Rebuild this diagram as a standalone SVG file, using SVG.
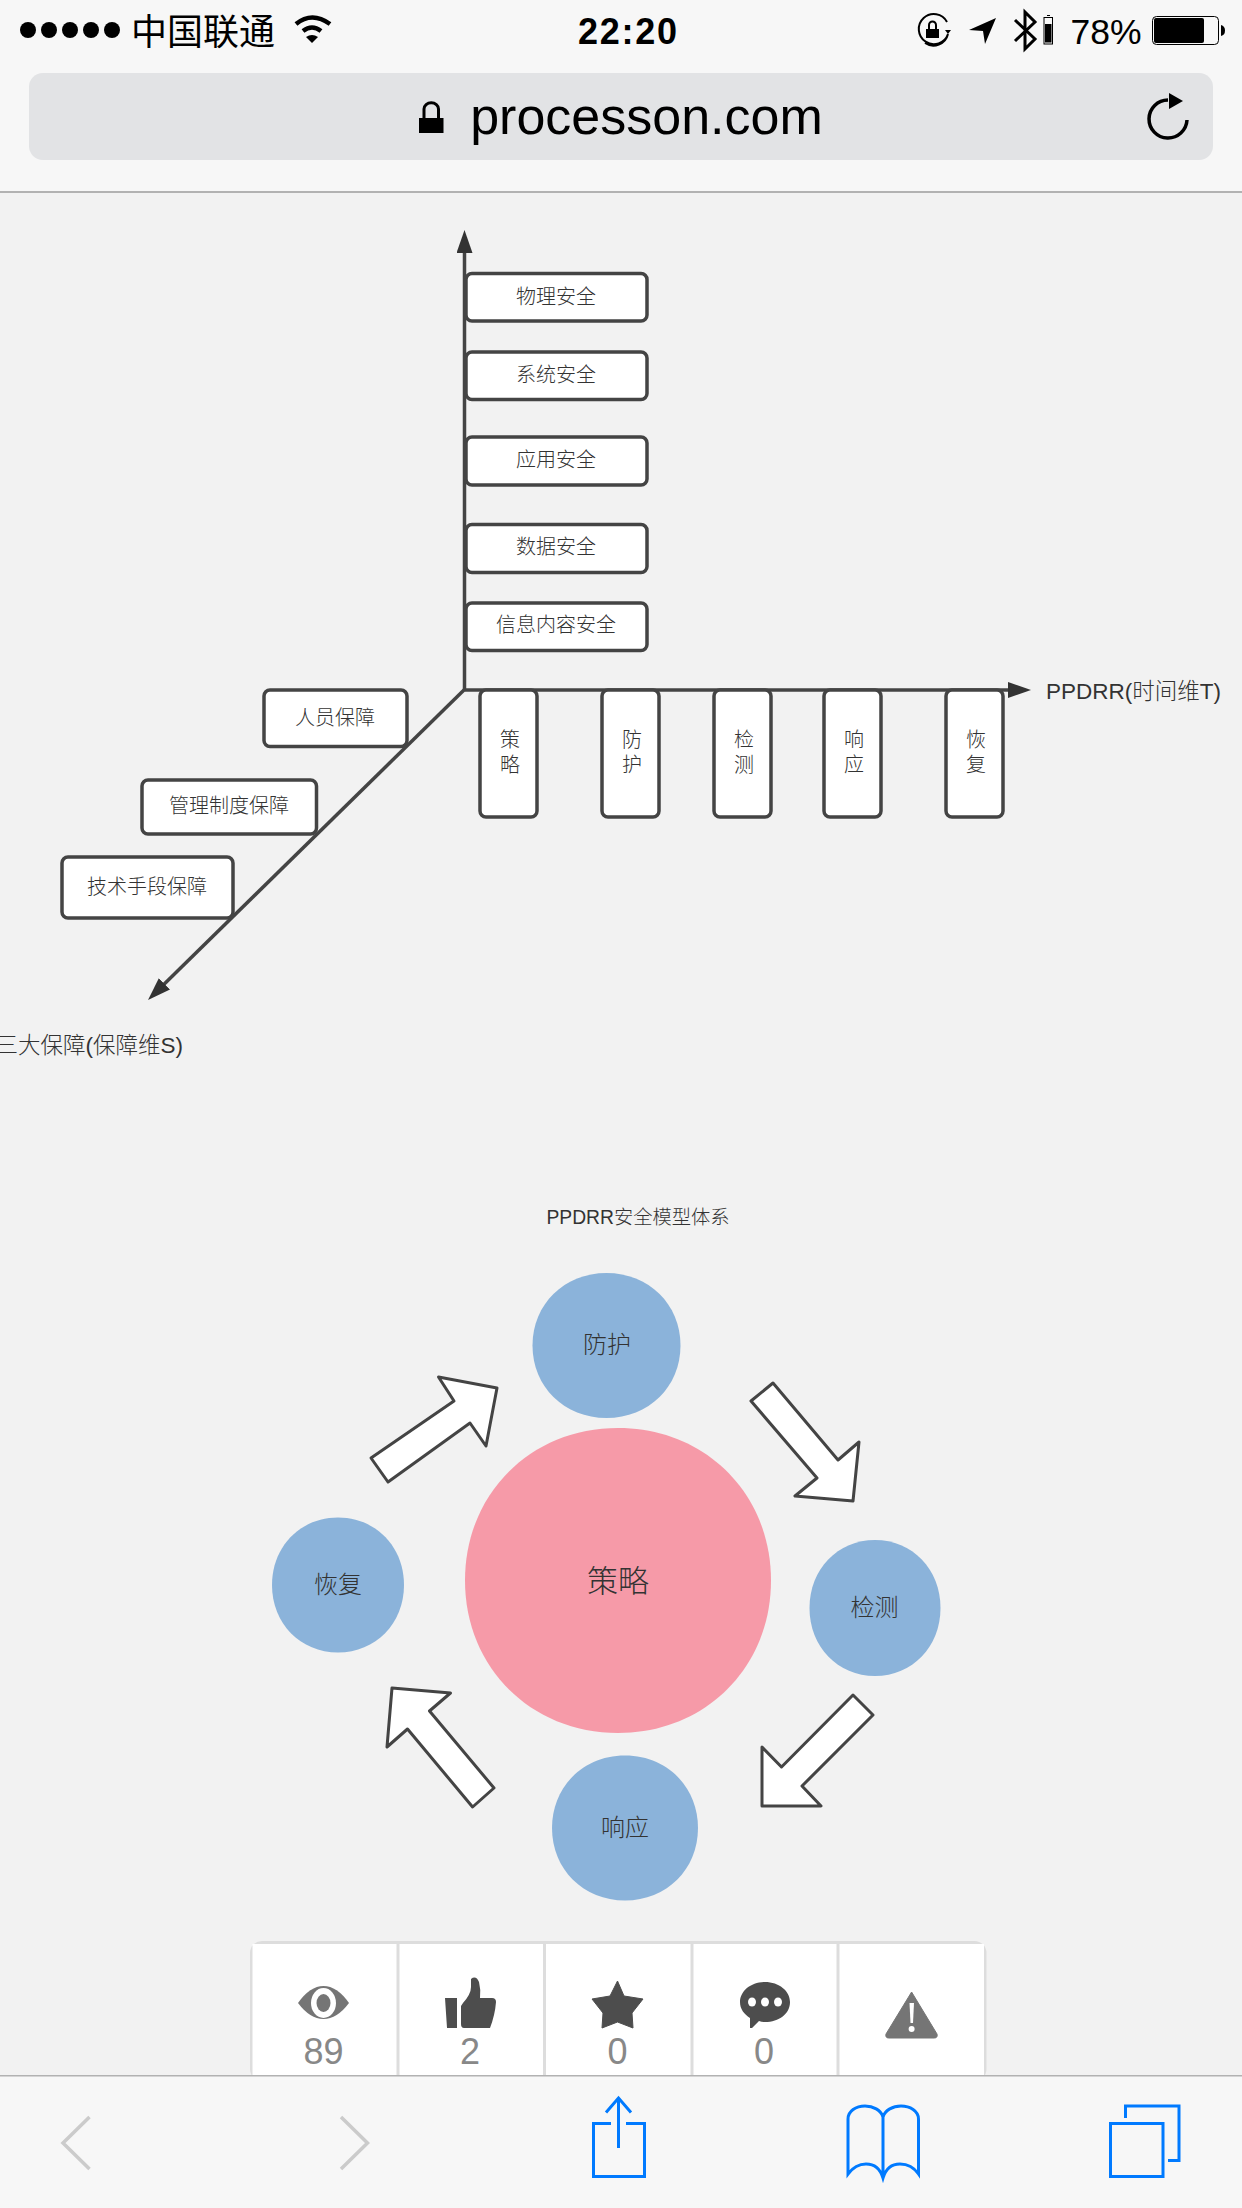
<svg xmlns="http://www.w3.org/2000/svg" xmlns:xlink="http://www.w3.org/1999/xlink" width="1242" height="2208" viewBox="0 0 1242 2208">
<style>
text{font-family:"Liberation Sans","Noto Sans CJK SC",sans-serif;fill:#333;text-anchor:middle;dominant-baseline:central}
.box{fill:#fff;stroke:#444;stroke-width:3.5}
.axis{fill:none;stroke:#444;stroke-width:3.5;marker-end:url(#head)}
.block{fill:#fff;stroke:#444;stroke-width:3;stroke-linejoin:round}
.l{font-size:20px;font-weight:300}
.a{font-size:22.500px;font-weight:300}
.c{font-size:24px;font-weight:300}
.blue{fill:#8bb3da}
.pink{fill:#f69aa8}
.k{fill:#000;dominant-baseline:auto}
.num{font-size:36px;fill:#888;dominant-baseline:auto}
.div{stroke:#ddd;stroke-width:3;fill:none}
.chev{fill:none;stroke:#cbcbcb;stroke-width:3.5}
.ios{fill:none;stroke:#007aff;stroke-width:3}
</style>
<defs>
<marker id="head" markerUnits="userSpaceOnUse" markerWidth="23" markerHeight="16" viewBox="0 0 23 16" refX="2" refY="8" orient="auto"><path d="M0,0L23,8L0,16Z" fill="#333"/></marker>
<path id="blob" d="M-1,0C-1,-.57 -.57,-1 0,-1C.57,-1 1,-.57 1,0C1,.57 .57,1 0,1C-.57,1 -1,.57 -1,0Z"/>
</defs>
<rect width="1242" height="2208" fill="#f2f2f2"/>

<g id="status-bar">
<rect width="1242" height="192" fill="#f7f7f7"/>
<rect y="191" width="1242" height="2" fill="#b2b2b2"/>
<g fill="#000"><circle cx="28" cy="30" r="8"/><circle cx="49" cy="30" r="8"/><circle cx="70" cy="30" r="8"/><circle cx="91" cy="30" r="8"/><circle cx="112" cy="30" r="8"/></g>
<text class="k" x="203" y="44.500" font-size="36">中国联通</text>
<path d="M296,24Q312,11 330,24M303,31Q312,24 321,31" fill="none" stroke="#000" stroke-width="4.500"/>
<path d="M306,37Q312,33 318,37L312,43Z" fill="#000"/>
<text class="k" x="627.500" y="44" font-size="36" font-weight="700" textLength="99">22:20</text>
<path d="M948,34A15,15 0 1 1 947,22M948,34A15,15 0 0 1 925,43" fill="none" stroke="#000" stroke-width="2"/>
<path d="M945,30H951L948,34Z" fill="#000"/>
<rect x="926" y="29" width="13" height="9" fill="#000"/>
<path d="M929,29V25A3.500,3.500 0 0 1 936,25V29" fill="none" stroke="#000" stroke-width="2"/>
<path d="M969,30L996,18L985,44L983,31Z" fill="#000"/>
<path d="M1015,20L1035,39L1025,49V12L1035,22L1015,41" fill="none" stroke="#000" stroke-width="3"/>
<rect x="1044" y="17.500" width="8.500" height="26.500" fill="none" stroke="#000" stroke-width="1"/>
<rect x="1047" y="15" width="3" height="1" fill="#000"/>
<rect x="1045" y="24" width="6.500" height="18.500" fill="#000"/>
<text class="k" x="1106" y="44" font-size="35.500">78%</text>
<rect x="1152.500" y="16.500" width="66" height="28" rx="4" fill="none" stroke="#000" stroke-width="1"/>
<rect x="1154" y="18" width="50" height="25" rx="2" fill="#000"/>
<path d="M1221,25Q1225,26 1225,30.500Q1225,35 1221,36Z" fill="#000"/>
</g>

<g id="address-bar">
<rect x="29" y="73" width="1184" height="87" rx="14" fill="#e2e3e5"/>
<rect x="419" y="118" width="24.500" height="15" fill="#000"/>
<path d="M424,118V109A7,6 0 0 1 438.500,109V118" fill="none" stroke="#000" stroke-width="3"/>
<text class="k" x="646.500" y="134" font-size="52">processon.com</text>
<path d="M1168,100A19,19 0 1 0 1187,120" fill="none" stroke="#000" stroke-width="3.500"/>
<path d="M1169,93L1183,101L1169,109Z" fill="#000"/>
</g>

<g id="connectors">
<path class="axis" d="M464.500,690V251"/>
<path class="axis" d="M464.500,690H1010"/>
<path class="axis" d="M465,689L163,985.300"/>
<polygon class="block" points="371,1458 454,1401 438.500,1377 497,1388 486,1446 470,1423 388,1482"/>
<polygon class="block" points="773,1383 751,1401 817,1478 795,1496 853,1501 859,1442 838,1460"/>
<polygon class="block" points="853,1695 873,1715 802,1786 821,1806 762,1806 762,1747 781.500,1767"/>
<polygon class="block" points="392,1688 450.500,1693 429.500,1711 494,1788 472.600,1807 407.500,1729 387,1747"/>
</g>

<g id="n-physical"><rect class="box" x="466" y="273.500" width="181" height="47.500" rx="6"/><text class="l" x="556" y="297">物理安全</text></g>
<g id="n-system"><rect class="box" x="466" y="352" width="181" height="47.500" rx="6"/><text class="l" x="556" y="375">系统安全</text></g>
<g id="n-application"><rect class="box" x="466" y="437" width="181" height="48" rx="6"/><text class="l" x="556" y="460">应用安全</text></g>
<g id="n-data"><rect class="box" x="466" y="524.500" width="181" height="48" rx="6"/><text class="l" x="556" y="547">数据安全</text></g>
<g id="n-content"><rect class="box" x="466" y="603" width="181" height="47.500" rx="6"/><text class="l" x="556" y="625">信息内容安全</text></g>

<g id="n-people"><rect class="box" x="264" y="690" width="143" height="56.500" rx="6"/><text class="l" x="335" y="718">人员保障</text></g>
<g id="n-policy"><rect class="box" x="142" y="780" width="174.500" height="54" rx="6"/><text class="l" x="229" y="806">管理制度保障</text></g>
<g id="n-tech"><rect class="box" x="62" y="857" width="171" height="61" rx="6"/><text class="l" x="147" y="887">技术手段保障</text></g>

<g id="t-strategy"><rect class="box" x="480" y="690" width="57" height="127" rx="6"/><text class="l" x="510" y="740">策</text><text class="l" x="510" y="764.500">略</text></g>
<g id="t-protect"><rect class="box" x="602" y="690" width="57" height="127" rx="6"/><text class="l" x="632" y="740">防</text><text class="l" x="632" y="764.500">护</text></g>
<g id="t-detect"><rect class="box" x="714" y="690" width="57" height="127" rx="6"/><text class="l" x="744" y="740">检</text><text class="l" x="744" y="764.500">测</text></g>
<g id="t-respond"><rect class="box" x="824" y="690" width="57" height="127" rx="6"/><text class="l" x="854" y="740">响</text><text class="l" x="854" y="764.500">应</text></g>
<g id="t-recover"><rect class="box" x="946" y="690" width="57" height="127" rx="6"/><text class="l" x="976" y="740">恢</text><text class="l" x="976" y="764.500">复</text></g>

<text id="label-t" class="a" x="1046" y="691" style="text-anchor:start">PPDRR(时间维T)</text>
<text id="label-s" class="a" x="183" y="1045" style="text-anchor:end">三大保障(保障维S)</text>
<text id="title" x="638" y="1217" font-size="19.300" font-weight="300">PPDRR安全模型体系</text>

<g id="c-strategy"><use href="#blob" class="pink" transform="translate(618,1580.500) scale(153,152.500)"/><text x="618" y="1581" font-size="31" font-weight="300">策略</text></g>
<g id="c-protect"><use href="#blob" class="blue" transform="translate(606.500,1345.500) scale(74,72.500)"/><text class="c" x="607" y="1344">防护</text></g>
<g id="c-detect"><use href="#blob" class="blue" transform="translate(875,1608) scale(65.500,68)"/><text class="c" x="874.500" y="1607">检测</text></g>
<g id="c-respond"><use href="#blob" class="blue" transform="translate(625,1828) scale(73,72.500)"/><text class="c" x="625" y="1827">响应</text></g>
<g id="c-recover"><use href="#blob" class="blue" transform="translate(338,1585) scale(66,67.500)"/><text class="c" x="338" y="1584">恢复</text></g>

<g id="stats-card">
<rect x="250" y="1941" width="736.500" height="140" rx="12" fill="#ddd"/>
<rect x="252.500" y="1944" width="731.500" height="132" fill="#fff"/>
<path class="div" d="M398,1944V2076M544.500,1944V2076M692,1944V2076M838,1944V2076"/>
<path d="M298,2003Q310,1986 323.500,1986Q337,1986 349,2003Q337,2019 323.500,2019Q310,2019 298,2003Z" fill="#757575"/>
<ellipse cx="323.500" cy="2003" rx="12.500" ry="15" fill="#fff"/><ellipse cx="323.500" cy="2003" rx="7" ry="9" fill="#757575"/>
<text class="num" x="323.500" y="2064">89</text>
<path d="M445,1998H457V2028H447ZM463,2003Q471,1994 471,1987L471,1979Q476,1975 479,1982Q481,1990 480,1998H492Q496,1998 496,2002Q495,2015 490,2028H464Q461,2028 461,2024V2006Z" fill="#4d4d4d"/>
<text class="num" x="470" y="2064">2</text>
<path d="M617.500,1981L624,1996L643,1999L632,2013L633,2028L617.500,2022L602,2028L603,2013L592,1999L610,1996Z" fill="#4d4d4d" stroke="#4d4d4d" stroke-width="1" stroke-linejoin="round"/>
<text class="num" x="617.500" y="2064">0</text>
<path d="M765,1982C779,1982 790,1991 790,2002C790,2014 779,2022 765,2022Q762,2022 759,2021L752,2028H750V2018C744,2014 740,2009 740,2002C740,1991 751,1982 765,1982Z" fill="#4d4d4d"/>
<g fill="#fff"><ellipse cx="752" cy="2002" rx="4" ry="4.500"/><ellipse cx="765" cy="2002" rx="4" ry="4.500"/><ellipse cx="778" cy="2002" rx="4" ry="4.500"/></g>
<text class="num" x="764" y="2064">0</text>
<path d="M911.600,1992L937,2034Q938,2038 934,2038H889Q885,2038 886,2034Z" fill="#757575" stroke="#757575" stroke-width="1" stroke-linejoin="round"/>
<path d="M909.500,2003H914L913,2023H910.500Z" fill="#fff"/><circle cx="911.600" cy="2029" r="3" fill="#fff"/>
</g>

<g id="toolbar">
<rect y="2076" width="1242" height="132" fill="#f7f7f7"/>
<rect y="2075" width="1242" height="1.500" fill="#b2b2b2"/>
<path class="chev" d="M89.500,2117L63,2143L89.500,2169"/>
<path class="chev" d="M341,2117L367.500,2143L341,2169"/>
<path class="ios" d="M611,2123.500H593.500V2176.500H644.500V2123.500H626M618.500,2148V2099M606,2112.500L618.500,2098L631,2112.500"/>
<path class="ios" d="M883,2176V2117C881,2110 873,2106 865,2106C856,2106 848,2111 848,2119V2174C854,2166 860,2164 866,2164C874,2164 880,2168 883,2178C886,2168 892,2164 900,2164C906,2164 913,2166 918.500,2174V2119C918.500,2111 910,2106 901,2106C893,2106 885,2110 883,2117"/>
<path class="ios" d="M1110.500,2123.500H1163V2176.500H1110.500ZM1125.500,2118V2106H1179V2160.500H1168"/>
</g>
</svg>
